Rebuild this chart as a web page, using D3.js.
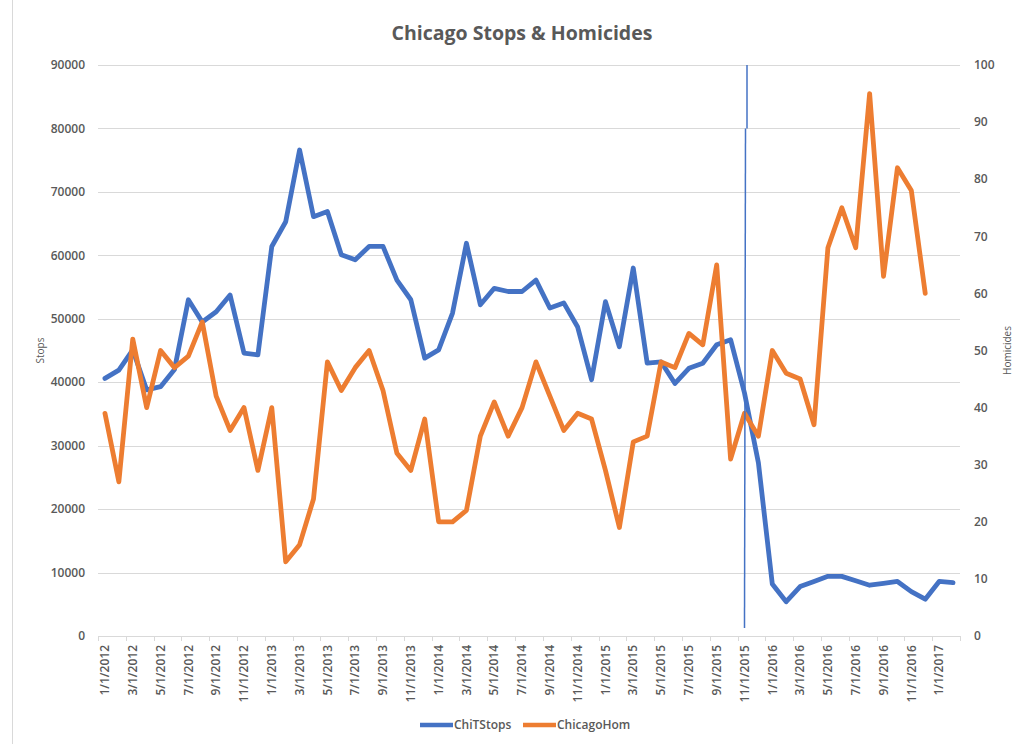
<!DOCTYPE html>
<html>
<head>
<meta charset="utf-8">
<script src="https://cdn.jsdelivr.net/npm/d3@7"></script>
<style>
  body { margin: 0; background: #fff; }
  text { font-family: "Open Sans", sans-serif; fill: #595959; }
</style>
</head>
<body>
<script>
// Monthly categories, Jan 2012 .. Feb 2017
const months = [
  "1/1/2012", "2/1/2012", "3/1/2012", "4/1/2012", "5/1/2012", "6/1/2012",
  "7/1/2012", "8/1/2012", "9/1/2012", "10/1/2012", "11/1/2012", "12/1/2012",
  "1/1/2013", "2/1/2013", "3/1/2013", "4/1/2013", "5/1/2013", "6/1/2013",
  "7/1/2013", "8/1/2013", "9/1/2013", "10/1/2013", "11/1/2013", "12/1/2013",
  "1/1/2014", "2/1/2014", "3/1/2014", "4/1/2014", "5/1/2014", "6/1/2014",
  "7/1/2014", "8/1/2014", "9/1/2014", "10/1/2014", "11/1/2014", "12/1/2014",
  "1/1/2015", "2/1/2015", "3/1/2015", "4/1/2015", "5/1/2015", "6/1/2015",
  "7/1/2015", "8/1/2015", "9/1/2015", "10/1/2015", "11/1/2015", "12/1/2015",
  "1/1/2016", "2/1/2016", "3/1/2016", "4/1/2016", "5/1/2016", "6/1/2016",
  "7/1/2016", "8/1/2016", "9/1/2016", "10/1/2016", "11/1/2016", "12/1/2016",
  "1/1/2017", "2/1/2017"
];

// ChiTStops (left axis)
const stops = [
  40600, 41900, 45100, 38800, 39300, 42000, 53000, 49500, 51100, 53750, 44600, 44300,
  61400, 65300, 76600, 66100, 66900, 60100, 59300, 61400, 61400, 56100, 53000, 43800,
  45100, 50900, 61900, 52200, 54800, 54300, 54300, 56100, 51700, 52500, 48700, 40400,
  52700, 45600, 58000, 43000, 43200, 39800, 42200, 43000, 45900, 46700, 38300, 27300,
  8200, 5400, 7800, 8600, 9400, 9400, 8700, 8000, 8300, 8600, 7000, 5800,
  8600, 8400
];

// ChicagoHom (right axis), ends Dec 2016
const homicides = [
  39, 27, 52, 40, 50, 47, 49, 55, 42, 36, 40, 29,
  40, 13, 16, 24, 48, 43, 47, 50, 43, 32, 29, 38,
  20, 20, 22, 35, 41, 35, 40, 48, 42, 36, 39, 38,
  29, 19, 34, 35, 48, 47, 53, 51, 65, 31, 39, 35,
  50, 46, 45, 37, 68, 75, 68, 95, 63, 82, 78, 60
];

const stopTicks = [0, 10000, 20000, 30000, 40000, 50000, 60000, 70000, 80000, 90000];
const homTicks = [0, 10, 20, 30, 40, 50, 60, 70, 80, 90, 100];
const markerMonth = "11/1/2015";

const seriesNames = ["ChiTStops", "ChicagoHom"];
const colors = ["#4472C4", "#ED7D31"];

const width = 1034, height = 744;
const margin = { top: 65, right: 74, bottom: 108, left: 98 };
const innerW = width - margin.left - margin.right;
const innerH = height - margin.top - margin.bottom;

const svg = d3.select("body").append("svg")
    .attr("width", width)
    .attr("height", height);

// chart area border (only the left edge is visible in the shot)
svg.append("line")
    .attr("x1", 12.5).attr("x2", 12.5)
    .attr("y1", 0).attr("y2", height)
    .attr("stroke", "#d9d9d9");

const g = svg.append("g")
    .attr("transform", `translate(${margin.left},${margin.top})`);

const x = d3.scaleBand().domain(months).range([0, innerW]).padding(0);
const cx = d => x(d) + x.bandwidth() / 2;
const yL = d3.scaleLinear().domain([0, 90000]).range([innerH, 0]);
const yR = d3.scaleLinear().domain([0, 100]).range([innerH, 0]);

// gridlines
g.append("g")
  .selectAll("line")
  .data(stopTicks.slice(1))
  .join("line")
    .attr("x1", 0).attr("x2", innerW)
    .attr("y1", d => Math.round(yL(d)) + 0.5)
    .attr("y2", d => Math.round(yL(d)) + 0.5)
    .attr("stroke", "#d9d9d9");

// left axis labels
g.append("g")
  .selectAll("text")
  .data(stopTicks)
  .join("text")
    .attr("x", -13)
    .attr("y", d => yL(d))
    .attr("dy", "0.35em")
    .attr("text-anchor", "end")
    .style("font-size", "12px")
    .style("font-weight", 600)
    .text(d => d);

// right axis labels
g.append("g")
  .selectAll("text")
  .data(homTicks)
  .join("text")
    .attr("x", innerW + 14)
    .attr("y", d => yR(d))
    .attr("dy", "0.35em")
    .attr("text-anchor", "start")
    .style("font-size", "12px")
    .style("font-weight", 600)
    .text(d => d);

// bottom axis line + ticks between every second category
g.append("line")
    .attr("x1", 0).attr("x2", innerW)
    .attr("y1", innerH + 0.5).attr("y2", innerH + 0.5)
    .attr("stroke", "#d9d9d9");

const tickPos = months.filter((m, i) => i % 2 === 0).map(m => x(m)).concat([innerW]);
g.append("g")
  .selectAll("line")
  .data(tickPos)
  .join("line")
    .attr("x1", d => Math.round(d) + 0.5).attr("x2", d => Math.round(d) + 0.5)
    .attr("y1", innerH).attr("y2", innerH + 5)
    .attr("stroke", "#d9d9d9");

// x labels, rotated
g.append("g")
  .selectAll("text")
  .data(months.filter((m, i) => i % 2 === 0))
  .join("text")
    .attr("transform", d => `translate(${cx(d)},${innerH + 9}) rotate(-90)`)
    .attr("dy", "0.35em")
    .attr("text-anchor", "end")
    .style("font-size", "12px")
    .style("font-weight", 600)
    .text(d => d);

// lines
const lineL = d3.line().x((d, i) => cx(months[i])).y(d => yL(d));
const lineR = d3.line().x((d, i) => cx(months[i])).y(d => yR(d));

g.append("path")
    .datum(stops)
    .attr("fill", "none")
    .attr("stroke", colors[0])
    .attr("stroke-width", 4.8)
    .attr("stroke-linejoin", "round")
    .attr("stroke-linecap", "round")
    .attr("d", lineL);

g.append("path")
    .datum(homicides)
    .attr("fill", "none")
    .attr("stroke", colors[1])
    .attr("stroke-width", 4.8)
    .attr("stroke-linejoin", "round")
    .attr("stroke-linecap", "round")
    .attr("d", lineR);

// hand-drawn marker line at Nov 2015 (with the small jog near the top)
const mx = cx(markerMonth);
g.append("line")
    .attr("x1", mx + 2.5).attr("x2", mx + 2.5)
    .attr("y1", yL(90000)).attr("y2", yL(80000))
    .attr("stroke", colors[0])
    .attr("stroke-width", 1.5);
g.append("line")
    .attr("x1", mx + 1).attr("x2", mx)
    .attr("y1", yL(80000)).attr("y2", innerH - 8)
    .attr("stroke", colors[0])
    .attr("stroke-width", 1.5);

// title
svg.append("text")
    .attr("x", 522).attr("y", 40)
    .attr("text-anchor", "middle")
    .style("font-size", "19.5px")
    .style("font-weight", 700)
    .text("Chicago Stops & Homicides");

// axis titles
svg.append("text")
    .attr("transform", `translate(40,${margin.top + innerH / 2}) rotate(-90)`)
    .attr("text-anchor", "middle")
    .attr("dy", "0.35em")
    .style("font-size", "10px")
    .text("Stops");

svg.append("text")
    .attr("transform", `translate(1007,${margin.top + innerH / 2}) rotate(-90)`)
    .attr("text-anchor", "middle")
    .attr("dy", "0.35em")
    .style("font-size", "10px")
    .text("Homicides");

// legend
const legend = svg.append("g").attr("transform", "translate(420,725)");
const legX = [0, 103];
seriesNames.forEach((name, i) => {
  const lg = legend.append("g").attr("transform", `translate(${legX[i]},0)`);
  lg.append("line")
      .attr("x1", 0).attr("x2", 33)
      .attr("stroke", colors[i])
      .attr("stroke-width", 4.5);
  lg.append("text")
      .attr("x", 34)
      .attr("dy", "0.35em")
      .style("font-size", "12px")
      .style("font-weight", 600)
      .text(name);
});
</script>
</body>
</html>
